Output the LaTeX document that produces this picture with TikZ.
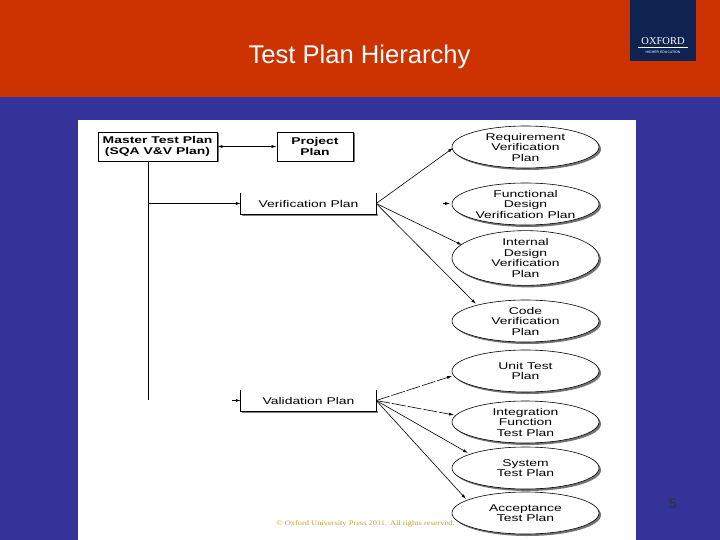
\documentclass[tikz,border=0pt]{standalone}
\usepackage{fontspec}
\setmainfont{Liberation Sans}
\newfontfamily\logofont{Liberation Serif}
\newfontfamily\widefont[FakeStretch=1.42]{Liberation Sans}
\newfontfamily\notefont[FakeStretch=1.2]{Liberation Serif}
\usetikzlibrary{shapes.geometric,shadows,arrows.meta}
\definecolor{headred}{HTML}{CC3300}
\definecolor{slideblue}{HTML}{333399}
\definecolor{logoblue}{HTML}{0F2350}
\definecolor{notetan}{HTML}{C8A030}
\tikzset{
    planbox/.style={draw,line width=0.8pt,fill=white,align=center,inner sep=0pt,font=\widefont\fontsize{9.8}{11}\selectfont\bfseries,
        drop shadow={shadow xshift=1.5pt,shadow yshift=-1.5pt,fill=black,opacity=0.55}},
    openbox/.style={inner sep=0pt,minimum width=135pt,minimum height=21pt,font=\widefont\fontsize{9.8}{11}\selectfont},
    planoval/.style={ellipse,draw,line width=0.6pt,fill=white,align=center,inner sep=0pt,minimum width=147pt,minimum height=42pt,
        font=\widefont\fontsize{9.8}{10.5}\selectfont,drop shadow={shadow xshift=2pt,shadow yshift=-2pt,fill=black,opacity=0.55}},
    link/.style={line width=0.6pt,-{Latex[length=5pt,width=3pt]}},
    dashlink/.style={link,dash pattern=on 14pt off 2pt}
}
\begin{document}
\begin{tikzpicture}[x=1pt,y=-1pt]
    \useasboundingbox (0,0) rectangle (720,540);
    % Slide background
    \fill[slideblue] (0,0) rectangle (720,540);
    \fill[headred] (0,0) rectangle (720,97);
    \fill[white] (78,120) rectangle (636,540);
    \node[text=white,font=\fontsize{25.6}{28}\selectfont] (title) at (359.5,57) {Test Plan Hierarchy};
    % Logo
    \fill[logoblue] (630,0) rectangle (696,61);
    \node[text=white,font=\logofont\fontsize{10.5}{11}\selectfont,inner sep=0pt] (oxford) at (663,41.5) {OXFORD};
    \draw[white,line width=0.4pt] (638,47) -- (688,47);
    \node[text=white,font=\fontsize{3.5}{4}\selectfont,inner sep=0pt] (imprint) at (663,52) {HIGHER EDUCATION};
    % Boxes on the left
    \node[planbox,minimum width=119pt,minimum height=29pt] (master) at (157.5,146.5) {Master Test Plan\\(SQA V\&V Plan)};
    \node[planbox,minimum width=76pt,minimum height=29pt] (project) at (315,146.5) {Project\\Plan};
    \node[openbox] (verif) at (308.5,203.5) {Verification Plan};
    \node[openbox] (valid) at (308.5,400.5) {Validation Plan};
    \foreach \n in {verif,valid} {
        \fill[gray] ([xshift=1pt,yshift=-1.6pt]\n.south west) rectangle ([xshift=1.6pt]\n.south east);
        \draw[line width=0.9pt] (\n.north west) -- (\n.south west) -- (\n.south east) -- (\n.north east);
    }
    % Ovals on the right
    \foreach \n/\y/\t in {req/147/Requirement\\Verification\\Plan,
            func/204/Functional\\Design\\Verification Plan,
            inter/258/Internal\\Design\\Verification\\Plan,
            code/321/Code\\Verification\\Plan,
            unit/371/Unit Test\\Plan,
            integ/422/Integration\\Function\\Test Plan,
            sys/468/System\\Test Plan,
            accept/513/Acceptance\\Test Plan} {
        \node[planoval] (\n) at (525.5,\y) {\t};
    }
    % Connectors
    \draw[line width=0.6pt,{Latex[length=5pt,width=3pt]}-{Latex[length=5pt,width=3pt]}] (master) -- (project);
    \coordinate (spinetop) at (148,161);
    \coordinate (spineend) at (148,400);
    \draw[line width=0.7pt] (spinetop) -- (spineend);
    \coordinate (verbranch) at (148,203.5);
    \draw[link] (verbranch) -- (verif.west);
    \coordinate (valstub) at (232,400.5);
    \draw[link] (valstub) -- (valid.west);
    \coordinate (funcstub) at (443,203.5);
    \coordinate (funcend) at (450,203.5);
    \draw[link] (funcstub) -- (funcend);
    \coordinate (reqend) at (453,148);
    \coordinate (interend) at (462,245);
    \coordinate (codeend) at (476,304);
    \foreach \e in {reqend,interend,codeend} {
        \draw[link] (verif.east) -- (\e);
    }
    \coordinate (unitend) at (452,376);
    \coordinate (integend) at (454,415);
    \coordinate (sysend) at (468,453);
    \coordinate (acceptend) at (466,499);
    \draw[dashlink] (valid.east) -- (unitend);
    \draw[dashlink] (valid.east) -- (integend);
    \draw[link] (valid.east) -- (sysend);
    \draw[link] (valid.east) -- (acceptend);
    % Footer
    \node[text=notetan,font=\notefont\fontsize{7}{8}\selectfont,inner sep=0pt] (note) at (365.5,524) {© Oxford University Press 2011. All rights reserved.};
    \node[text=black!80,font=\fontsize{14}{16}\selectfont,inner sep=0pt] (page) at (673,504) {5};
\end{tikzpicture}
\end{document}
